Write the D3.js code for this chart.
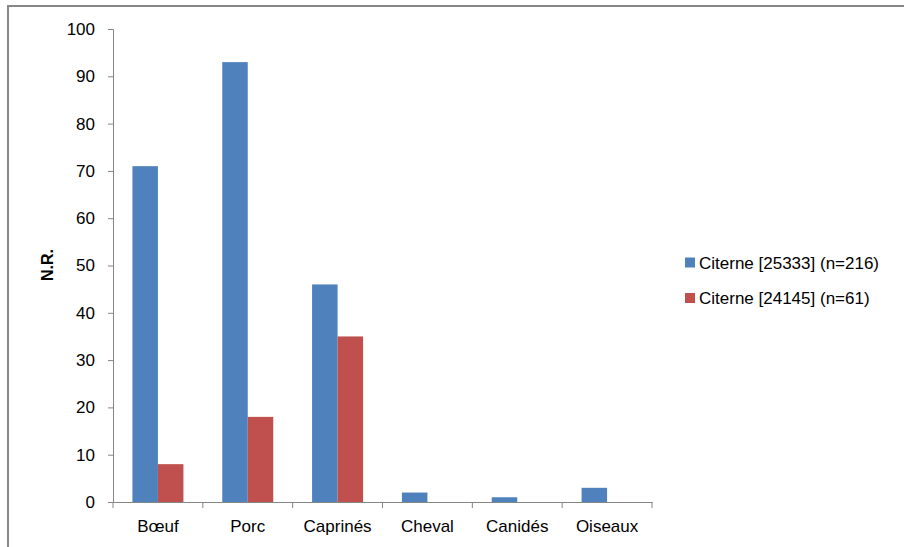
<!DOCTYPE html>
<html>
<head>
<meta charset="utf-8">
<script src="https://cdn.jsdelivr.net/npm/d3@7"></script>
<style>
body { margin: 0; background: #fff; }
text { font-family: "Liberation Sans", Arial, sans-serif; fill: #000; }
</style>
</head>
<body>
<script>
// categories and series
var categories = ["Bœuf", "Porc", "Caprinés", "Cheval", "Canidés", "Oiseaux"];
var series = ["Citerne [25333] (n=216)", "Citerne [24145] (n=61)"];
var values25333 = [71, 93, 46, 2, 1, 3];
var values24145 = [8, 18, 35, 0, 0, 0];
var yTicks = [0, 10, 20, 30, 40, 50, 60, 70, 80, 90, 100];
var colours = ["#4F81BD", "#C0504D"];

draw();
function draw(){
	var svg = d3.select("body").append("svg")
		.attr("width", 904).attr("height", 547);

	// outer frame
	svg.append("rect")
		.attr("x", 8).attr("y", 6).attr("width", 910).attr("height", 560)
		.attr("fill", "none").attr("stroke", "#888").attr("stroke-width", 2);

	var left = 113, right = 652, top = 29, bottom = 502;

	var x = d3.scaleBand().domain(categories).range([left, right]);
	var y = d3.scaleLinear().domain([0, 100]).range([bottom, top]);
	var barW = 25.5;

	var rows = categories.map(function(c, i){
		return {cat: c, vals: [values25333[i], values24145[i]]};
	});

	var g = svg.append("g");
	rows.forEach(function(r){
		r.vals.forEach(function(v, s){
			if (v <= 0) return;
			var cx = x(r.cat) + x.bandwidth()/2;
			g.append("rect")
				.attr("x", cx - barW + s*barW)
				.attr("y", y(v))
				.attr("width", barW)
				.attr("height", y(0) - y(v))
				.attr("fill", colours[s]);
		});
	});

	// y axis
	var yAxis = svg.append("g")
		.attr("transform", "translate(" + left + ",0)")
		.call(d3.axisLeft(y).tickValues(yTicks).tickSize(5).tickPadding(13));
	yAxis.select(".domain").attr("stroke", "#868686");
	yAxis.selectAll(".tick line").attr("stroke", "#868686");
	yAxis.selectAll("text").attr("font-size", 17).attr("fill", "#000")
		.style("font-family", "Liberation Sans, Arial, sans-serif");

	// x axis
	var xAxis = svg.append("g")
		.attr("transform", "translate(0," + bottom + ")")
		.call(d3.axisBottom(x).tickSize(0).tickPadding(18));
	xAxis.select(".domain").attr("stroke", "#868686");
	xAxis.selectAll("text").attr("font-size", 17).attr("fill", "#000")
		.style("font-family", "Liberation Sans, Arial, sans-serif");
	// ticks between categories
	var bounds = categories.map(function(c){ return x(c); }).concat([right]);
	svg.selectAll(".xtick").data(bounds).enter().append("line")
		.attr("x1", function(d){ return d; }).attr("x2", function(d){ return d; })
		.attr("y1", bottom).attr("y2", bottom + 6)
		.attr("stroke", "#868686");

	// axis title
	svg.append("text")
		.attr("transform", "translate(53,265) rotate(-90)")
		.attr("text-anchor", "middle")
		.attr("font-size", 16).attr("font-weight", "bold")
		.text("N.R.");

	// legend
	var legend = svg.append("g");
	series.forEach(function(s, i){
		var ly = 262.5 + i*35.5;
		legend.append("rect")
			.attr("x", 685).attr("y", ly - 5).attr("width", 10).attr("height", 10)
			.attr("fill", colours[i]);
		legend.append("text")
			.attr("x", 699).attr("y", ly + 6)
			.attr("font-size", 17)
			.text(s);
	});
}
</script>
</body>
</html>
